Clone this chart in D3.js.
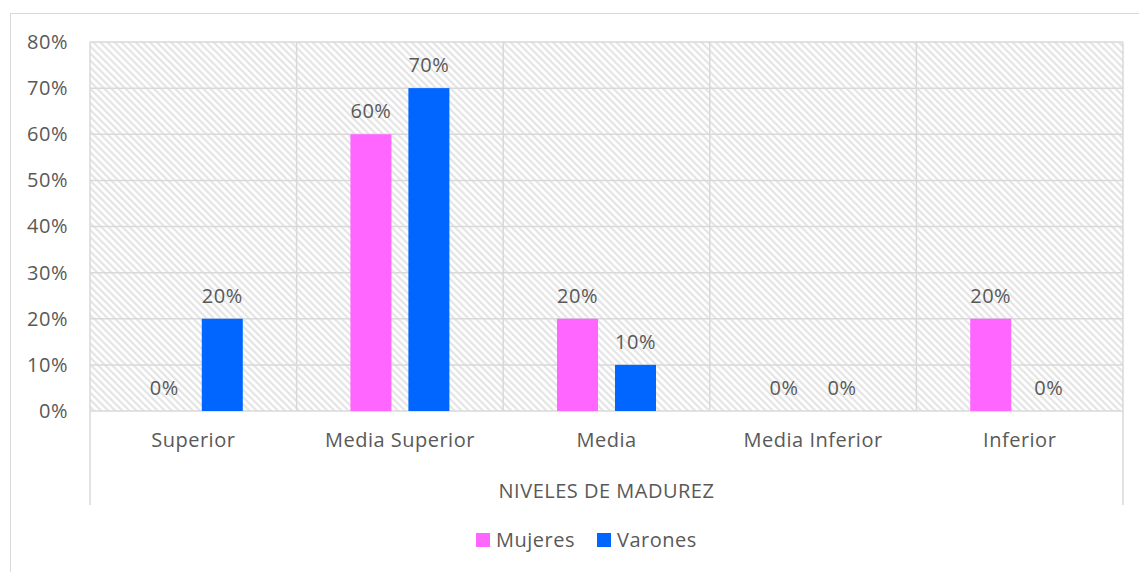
<!DOCTYPE html>
<html>
<head>
<meta charset="utf-8">
<script src="https://d3js.org/d3.v7.min.js"></script>
<style>
  body { margin: 0; background: #fff; }
  text { font-family: "Open Sans", sans-serif; fill: #595959; }
  .domain { display: none; }
</style>
</head>
<body>
<svg width="1139" height="572"></svg>
<script>
const categories = ['Superior', 'Media Superior', 'Media', 'Media Inferior', 'Inferior'];
const series = ['Mujeres', 'Varones'];
const mujeres = [0, 60, 20, 0, 20];
const varones = [20, 70, 10, 0, 0];
const yTicks = [0, 10, 20, 30, 40, 50, 60, 70, 80];
const colors = ['#FF66FF', '#0066FF'];
const axisTitle = 'NIVELES DE MADUREZ';

const svg = d3.select('svg');
const plot = { left: 90, right: 1123, top: 42, bottom: 411 };
const fs = '20px', ls = '0.5px';

// outer chart frame
svg.append('rect')
  .attr('x', 10.5).attr('y', 13.5)
  .attr('width', 1140).attr('height', 570)
  .attr('fill', '#fff').attr('stroke', '#d9d9d9').attr('stroke-width', 1);

const defs = svg.append('defs');
const pat = defs.append('pattern')
  .attr('id', 'hatch')
  .attr('patternUnits', 'userSpaceOnUse')
  .attr('width', 5).attr('height', 5)
  .attr('patternTransform', 'rotate(-45)');
pat.append('rect').attr('width', 5).attr('height', 5).attr('fill', '#fff');
pat.append('rect').attr('width', 2.2).attr('height', 5).attr('fill', '#e4e4e4');

const x0 = d3.scaleBand().domain(categories).range([plot.left, plot.right]);
const x1 = d3.scaleBand().domain(series).range([0, x0.bandwidth()])
  .paddingInner(0.293).paddingOuter(0.928);
const y = d3.scaleLinear().domain([0, 80]).range([plot.bottom, plot.top]);

svg.append('rect')
  .attr('x', plot.left).attr('y', plot.top)
  .attr('width', plot.right - plot.left).attr('height', plot.bottom - plot.top)
  .attr('fill', 'url(#hatch)');

// horizontal gridlines
svg.append('g').selectAll('line').data(yTicks).join('line')
  .attr('x1', plot.left).attr('x2', plot.right)
  .attr('y1', d => y(d)).attr('y2', d => y(d))
  .attr('stroke', '#d9d9d9').attr('stroke-width', 1.5);

// category separators (outer ones run down through the axis area)
const seps = categories.map(c => x0(c)).concat([plot.right]);
svg.append('g').selectAll('line').data(seps).join('line')
  .attr('x1', d => d).attr('x2', d => d)
  .attr('y1', plot.top)
  .attr('y2', (d, i) => (i === 0 || i === seps.length - 1) ? 505 : plot.bottom)
  .attr('stroke', '#d9d9d9').attr('stroke-width', 1.5);

// y axis labels
const yAxis = d3.axisLeft(y).tickValues(yTicks).tickFormat(d => d + '%').tickSize(0).tickPadding(22);
svg.append('g').attr('transform', `translate(${plot.left},0)`).call(yAxis)
  .selectAll('text').style('font-size', fs).style('letter-spacing', ls).style('fill', '#595959');

// x axis labels
const xAxis = d3.axisBottom(x0).tickSize(0).tickPadding(22);
svg.append('g').attr('transform', `translate(0,${plot.bottom})`).call(xAxis)
  .selectAll('text').style('font-size', fs).style('letter-spacing', ls).style('fill', '#595959');

svg.append('text')
  .attr('x', (plot.left + plot.right) / 2).attr('y', 498)
  .attr('text-anchor', 'middle').style('font-size', fs).style('letter-spacing', ls)
  .text(axisTitle);

const rows = categories.map((c, i) => ({ cat: c, vals: [mujeres[i], varones[i]] }));
const groups = svg.append('g').selectAll('g').data(rows).join('g')
  .attr('transform', d => `translate(${x0(d.cat)},0)`);

groups.selectAll('rect').data(d => d.vals.map((v, j) => ({ s: series[j], v, j }))).join('rect')
  .attr('x', d => x1(d.s)).attr('width', x1.bandwidth())
  .attr('y', d => y(d.v)).attr('height', d => y(0) - y(d.v))
  .attr('fill', d => colors[d.j]);

groups.selectAll('text.val').data(d => d.vals.map((v, j) => ({ s: series[j], v, j }))).join('text')
  .attr('class', 'val')
  .attr('x', d => x1(d.s) + x1.bandwidth() / 2)
  .attr('y', d => y(d.v) - 16)
  .attr('text-anchor', 'middle').style('font-size', fs).style('letter-spacing', ls)
  .text(d => d.v + '%');

// legend
const legend = svg.append('g').attr('transform', 'translate(476,533)');
const legX = [0, 121];
series.forEach((s, i) => {
  legend.append('rect').attr('x', legX[i]).attr('y', 0).attr('width', 14).attr('height', 14).attr('fill', colors[i]);
  legend.append('text').attr('x', legX[i] + 20).attr('y', 14).style('font-size', fs).style('letter-spacing', ls).text(s);
});
</script>
</body>
</html>
